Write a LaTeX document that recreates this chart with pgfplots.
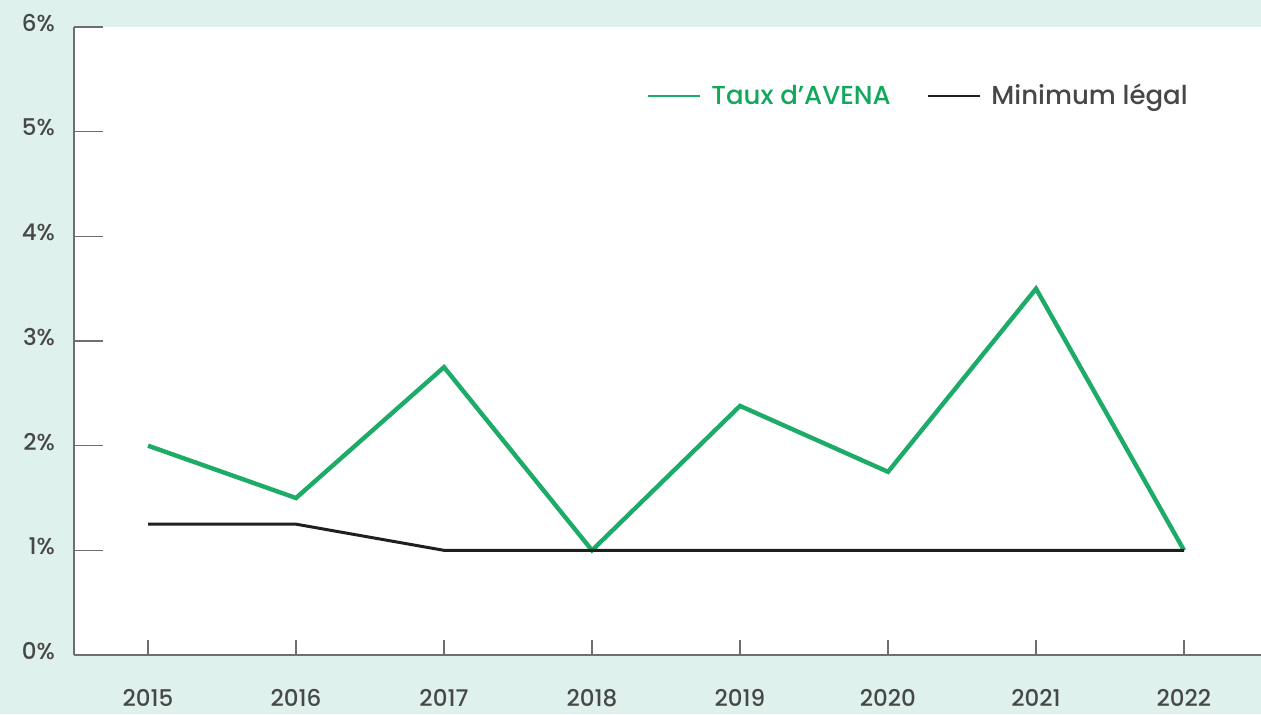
\documentclass[border=0pt]{standalone}
\usepackage{fontspec}
\setmainfont{Poppins}[UprightFont={* Medium}]
\usepackage{pgfplots}
\pgfplotsset{compat=1.18}
\definecolor{mint}{HTML}{DFF1EC}
\definecolor{avena}{HTML}{1DAB68}
\definecolor{avenatxt}{HTML}{12A85C}
\definecolor{txtgrey}{HTML}{474747}
\definecolor{axgrey}{HTML}{6E6E6E}
\begin{document}
\begin{tikzpicture}
\fill[mint] (-37pt,-29.5pt) rectangle (593.5pt,327.5pt);
\path[use as bounding box] (-37pt,-29.5pt) rectangle (593.5pt,327.5pt);
\begin{axis}[
  scale only axis,
  width=593.5pt, height=314pt,
  xmin=2014.5, xmax=2022.52,
  ymin=0, ymax=6,
  axis x line*=bottom, axis y line*=left,
  axis background/.style={fill=white},
  axis line style={axgrey, line width=0.8pt},
  xtick={2015,...,2022},
  ytick={0,...,6},
  tick align=inside,
  xtick style={axgrey, line width=0.8pt, /pgfplots/major tick length=7.5pt},
  ytick style={axgrey, line width=0.8pt, /pgfplots/major tick length=14.5pt},
  /pgf/number format/assume math mode=true,
  /pgf/number format/1000 sep={},
  yticklabel={\pgfmathprintnumber{\tick}\%},
  ticklabel style={font=\fontsize{11.5}{13}\selectfont, text=txtgrey},
  xticklabel style={yshift=-13.5pt},
  yticklabel style={xshift=-6pt, yshift=2pt},
  legend columns=2,
  legend style={at={(0.947,0.89)}, anchor=east, draw=none, fill=none,
    font=\fontsize{13}{15}\selectfont, column sep=3pt,
    /tikz/every even column/.append style={column sep=16pt}},
  legend cell align=left,
  legend image code/.code={\draw[#1, line width=1.3pt] (0pt,0pt) -- (26pt,0pt);},
]
\addplot[avena, line width=2.2pt] coordinates {
  (2015,2.0) (2016,1.5) (2017,2.75) (2018,1.0)
  (2019,2.38) (2020,1.75) (2021,3.5) (2022,1.0)
};
\addlegendentry{\textcolor{avenatxt}{Taux d’AVENA}}
\addplot[black!88, line width=1.5pt] coordinates {
  (2015,1.25) (2016,1.25) (2017,1.0) (2018,1.0)
  (2019,1.0) (2020,1.0) (2021,1.0) (2022,1.0)
};
\addlegendentry{\textcolor{txtgrey}{Minimum légal}}
\end{axis}
\end{tikzpicture}
\end{document}
